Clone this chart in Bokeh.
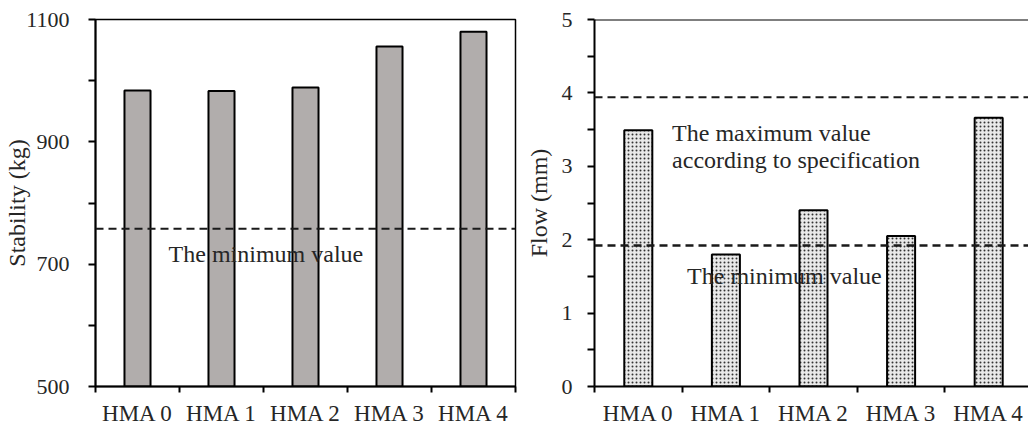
from bokeh.plotting import figure
from bokeh.layouts import row
from bokeh.models import FixedTicker, Span, Label, Range1d
from bokeh.embed import file_html
from bokeh.resources import INLINE

categories = ["HMA 0", "HMA 1", "HMA 2", "HMA 3", "HMA 4"]
stability = [984, 983, 989, 1056, 1080]
flow = [3.49, 1.80, 2.40, 2.05, 3.66]
stability_min = 758
flow_min = 1.92
flow_max = 3.94
stab_ticks = [500, 700, 900, 1100]
stab_minor = [600, 800, 1000]
flow_ticks = [0, 1, 2, 3, 4, 5]
flow_minor = [0.5, 1.5, 2.5, 3.5, 4.5]

FONT = "'Liberation Serif', 'Times New Roman', Times, serif"
TXT = "#262626"

xs = [i + 0.5 for i in range(len(categories))]
bounds = list(range(len(categories) + 1))
overrides = {x: c for x, c in zip(xs, categories)}


def style(p, yticks, yminor, ylabel, label_standoff, tick_standoff):
    p.grid.visible = False
    p.background_fill_color = "white"
    p.border_fill_color = "white"
    xa = p.xaxis[0]
    xa.ticker = FixedTicker(ticks=xs, minor_ticks=bounds)
    xa.major_label_overrides = overrides
    xa.major_tick_out = 14
    xa.major_tick_in = 0
    xa.major_tick_line_color = None
    xa.minor_tick_out = 6
    xa.minor_tick_in = 0
    xa.minor_tick_line_width = 2
    xa.minor_tick_line_color = "black"
    xa.axis_line_width = 2
    xa.axis_line_color = "black"
    xa.major_label_standoff = 0
    xa.major_label_text_font = FONT
    xa.major_label_text_font_size = "23px"
    xa.major_label_text_color = TXT
    ya = p.yaxis[0]
    ya.ticker = FixedTicker(ticks=yticks, minor_ticks=yminor)
    ya.major_tick_out = 7
    ya.major_tick_in = 0
    ya.minor_tick_out = 7
    ya.minor_tick_in = 0
    ya.major_tick_line_width = 2
    ya.minor_tick_line_width = 2
    ya.major_tick_line_color = "black"
    ya.minor_tick_line_color = "black"
    ya.axis_line_width = 2
    ya.axis_line_color = "black"
    ya.major_label_standoff = tick_standoff
    ya.major_label_text_font = FONT
    ya.major_label_text_font_size = "22px"
    ya.major_label_text_color = TXT
    ya.axis_label = ylabel
    ya.axis_label_text_font = FONT
    ya.axis_label_text_font_style = "normal"
    ya.axis_label_text_font_size = "24px"
    ya.axis_label_text_color = TXT
    ya.axis_label_standoff = label_standoff


# Left: stability
p1 = figure(width=522, height=428, output_backend="svg", toolbar_location=None,
            x_range=Range1d(0, len(categories)), y_range=Range1d(500, 1100),
            min_border_left=95, min_border_right=7, min_border_top=19,
            min_border_bottom=39)
p1.outline_line_color = "black"
p1.outline_line_width = 1.5
style(p1, stab_ticks, stab_minor, "Stability (kg)", -7, 19)
p1.vbar(x=xs, top=stability, bottom=500, width=0.31,
        fill_color="#b1adac", line_color="black", line_width=2)
p1.add_layout(Span(location=stability_min, dimension="width",
                   line_color="#1a1a1a", line_width=2, line_dash="8 5"))
p1.add_layout(Label(x=0.87, y=717, text="The minimum value",
                    text_font=FONT, text_font_size="24px", text_color=TXT,
                    text_baseline="alphabetic", text_align="left"))

# Right: flow
p2 = figure(width=506, height=428, output_backend="svg", toolbar_location=None,
            x_range=Range1d(0, 436 / 88), y_range=Range1d(0, 5),
            min_border_left=70, min_border_right=0, min_border_top=15,
            min_border_bottom=41)
p2.outline_line_color = None
style(p2, flow_ticks, flow_minor, "Flow (mm)", 7, 15)
p2.add_layout(Span(location=5, dimension="width", line_color="black", line_width=2))
p2.vbar(x=xs, top=flow, bottom=0, width=0.32,
        fill_color="#e9e9e9", line_color="black", line_width=2,
        hatch_pattern="dot", hatch_color="#333333", hatch_scale=4, hatch_weight=1)
p2.add_layout(Span(location=flow_max, dimension="width",
                   line_color="#1a1a1a", line_width=2, line_dash="8 5"))
p2.add_layout(Span(location=flow_min, dimension="width",
                   line_color="#1a1a1a", line_width=2.5, line_dash="8 5"))
p2.add_layout(Label(x=0.886, y=3.455, text="The maximum value",
                    text_font=FONT, text_font_size="24px", text_color=TXT,
                    text_baseline="alphabetic", text_align="left"))
p2.add_layout(Label(x=0.886, y=3.08, text="according to specification",
                    text_font=FONT, text_font_size="24px", text_color=TXT,
                    text_baseline="alphabetic", text_align="left"))
p2.add_layout(Label(x=1.057, y=1.50, text="The minimum value",
                    text_font=FONT, text_font_size="24px", text_color=TXT,
                    text_baseline="alphabetic", text_align="left"))

layout = row(p1, p2)
open("out.html", "w").write(file_html(layout, INLINE))
